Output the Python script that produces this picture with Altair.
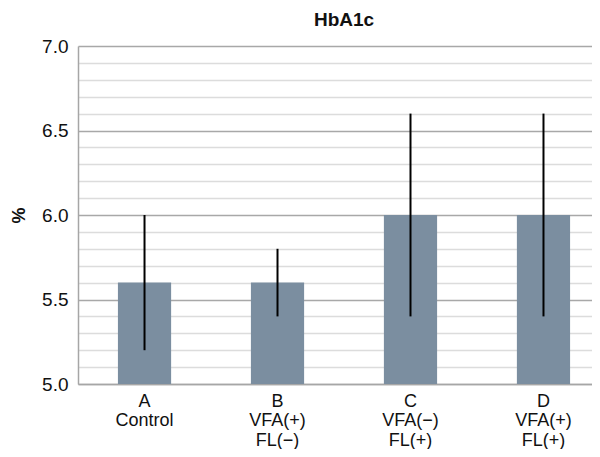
import altair as alt
import pandas as pd

groups = ["A", "B", "C", "D"]
labels = ["A\nControl", "B\nVFA(+)\nFL(−)", "C\nVFA(−)\nFL(+)", "D\nVFA(+)\nFL(+)"]
means = [5.6, 5.6, 6.0, 6.0]
lower = [5.2, 5.4, 5.4, 5.4]
upper = [6.0, 5.8, 6.6, 6.6]
y_ticks = [5.0, 5.1, 5.2, 5.3, 5.4, 5.5, 5.6, 5.7, 5.8, 5.9, 6.0,
           6.1, 6.2, 6.3, 6.4, 6.5, 6.6, 6.7, 6.8, 6.9, 7.0]

df = pd.DataFrame({"group": groups, "label": labels, "mean": means,
                   "lower": lower, "upper": upper})

FONT = "Liberation Sans"

x_scale = alt.Scale(paddingInner=0.6, paddingOuter=0.2325, align=0.6456)
x_enc = alt.X(
    "label:N", sort=None, title=None, scale=x_scale,
    axis=alt.Axis(labelExpr="split(datum.label, '\\n')", labelAngle=0,
                  ticks=False, labelPadding=8, labelFontSize=18,
                  labelLineHeight=19.5, labelColor="#111111", labelFont=FONT,
                  labelBaseline="top",
                  domainColor="#a6a6a6", domainWidth=1.5, grid=False),
)

y_scale = alt.Scale(domain=[5.0, 7.0], nice=False, zero=False)
y_axis = alt.Axis(
    values=y_ticks, tickCount=30, title="%", titleFontSize=18, titleFontWeight="bold",
    titleFont=FONT, titleColor="#111111", titleX=-50, titleY=169,
    labelExpr="round(datum.value*10) % 5 === 0 ? format(datum.value, '.1f') : ''",
    labelFontSize=19, labelFont=FONT, labelColor="#111111", labelPadding=10,
    labelOverlap=False, labelBound=False,
    ticks=False, domainColor="#a6a6a6", domainWidth=1.5,
    grid=True,
    gridColor={"condition": {"test": "round(datum.value*10) % 5 === 0", "value": "#a8a8a8"},
               "value": "#dcdcdc"},
    gridWidth=1.5,
)

base = alt.Chart(df).encode(x=x_enc)

bars = base.mark_bar(color="#7b8ea0", clip=True).encode(
    y=alt.Y("mean:Q", scale=y_scale, axis=y_axis),
)

err = base.mark_rule(color="#000000", strokeWidth=2).encode(
    y=alt.Y("lower:Q", scale=y_scale),
    y2="upper:Q",
)

chart = alt.layer(bars, err).properties(
    width=514, height=338,
    title=alt.TitleParams("HbA1c", fontSize=19, fontWeight="bold", font=FONT,
                          color="#111111", dx=9, offset=7),
    autosize=alt.AutoSizeParams(type="none"),
    padding={"left": 70, "top": 38, "right": 0, "bottom": 65},
).configure_view(stroke=None)

chart.save("out.html", embed_options={"renderer": "svg", "actions": False})
